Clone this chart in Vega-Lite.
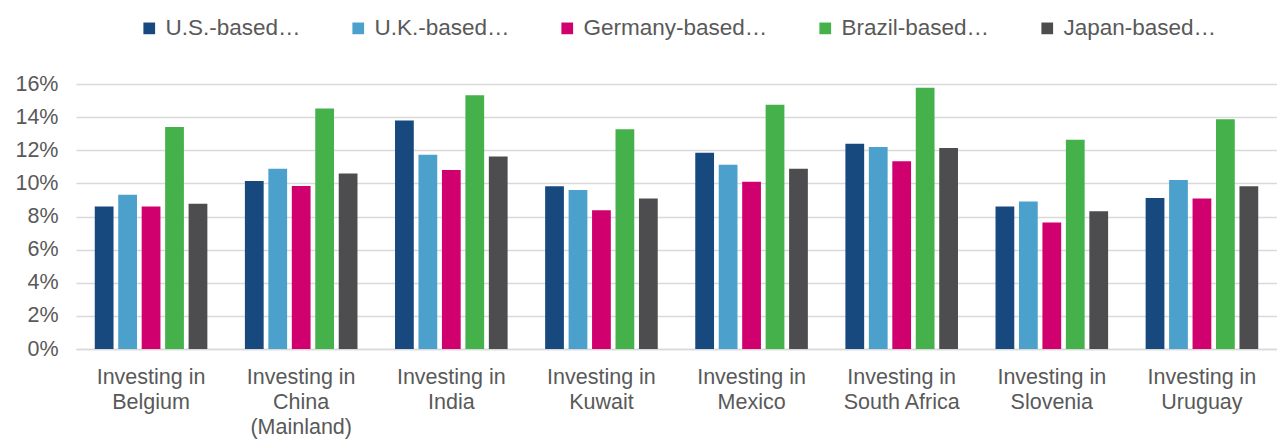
{
  "$schema": "https://vega.github.io/schema/vega-lite/v6.json",
  "autosize": {"type": "none"},
  "width": 1201,
  "height": 265,
  "padding": {"left": 76, "top": 84, "right": 0, "bottom": 91},
  "background": "white",
  "config": {
    "font": "Liberation Sans",
    "view": {"stroke": null},
    "axis": {"labelFont": "Liberation Sans", "labelColor": "#595959", "labelFontSize": 21.5}
  },
  "data": {
    "values": [
      {"market": "Investing in Belgium", "series": "U.S.-based…", "value": 0.0861},
      {"market": "Investing in Belgium", "series": "U.K.-based…", "value": 0.0931},
      {"market": "Investing in Belgium", "series": "Germany-based…", "value": 0.0861},
      {"market": "Investing in Belgium", "series": "Brazil-based…", "value": 0.1341},
      {"market": "Investing in Belgium", "series": "Japan-based…", "value": 0.0877},
      {"market": "Investing in China (Mainland)", "series": "U.S.-based…", "value": 0.1014},
      {"market": "Investing in China (Mainland)", "series": "U.K.-based…", "value": 0.1089},
      {"market": "Investing in China (Mainland)", "series": "Germany-based…", "value": 0.0984},
      {"market": "Investing in China (Mainland)", "series": "Brazil-based…", "value": 0.1452},
      {"market": "Investing in China (Mainland)", "series": "Japan-based…", "value": 0.106},
      {"market": "Investing in India", "series": "U.S.-based…", "value": 0.1379},
      {"market": "Investing in India", "series": "U.K.-based…", "value": 0.1173},
      {"market": "Investing in India", "series": "Germany-based…", "value": 0.1081},
      {"market": "Investing in India", "series": "Brazil-based…", "value": 0.1532},
      {"market": "Investing in India", "series": "Japan-based…", "value": 0.1163},
      {"market": "Investing in Kuwait", "series": "U.S.-based…", "value": 0.0982},
      {"market": "Investing in Kuwait", "series": "U.K.-based…", "value": 0.096},
      {"market": "Investing in Kuwait", "series": "Germany-based…", "value": 0.0837},
      {"market": "Investing in Kuwait", "series": "Brazil-based…", "value": 0.1327},
      {"market": "Investing in Kuwait", "series": "Japan-based…", "value": 0.0909},
      {"market": "Investing in Mexico", "series": "U.S.-based…", "value": 0.1185},
      {"market": "Investing in Mexico", "series": "U.K.-based…", "value": 0.1113},
      {"market": "Investing in Mexico", "series": "Germany-based…", "value": 0.101},
      {"market": "Investing in Mexico", "series": "Brazil-based…", "value": 0.1474},
      {"market": "Investing in Mexico", "series": "Japan-based…", "value": 0.1089},
      {"market": "Investing in South Africa", "series": "U.S.-based…", "value": 0.124},
      {"market": "Investing in South Africa", "series": "U.K.-based…", "value": 0.122},
      {"market": "Investing in South Africa", "series": "Germany-based…", "value": 0.1133},
      {"market": "Investing in South Africa", "series": "Brazil-based…", "value": 0.1577},
      {"market": "Investing in South Africa", "series": "Japan-based…", "value": 0.1214},
      {"market": "Investing in Slovenia", "series": "U.S.-based…", "value": 0.0861},
      {"market": "Investing in Slovenia", "series": "U.K.-based…", "value": 0.0891},
      {"market": "Investing in Slovenia", "series": "Germany-based…", "value": 0.0764},
      {"market": "Investing in Slovenia", "series": "Brazil-based…", "value": 0.1264},
      {"market": "Investing in Slovenia", "series": "Japan-based…", "value": 0.0831},
      {"market": "Investing in Uruguay", "series": "U.S.-based…", "value": 0.0911},
      {"market": "Investing in Uruguay", "series": "U.K.-based…", "value": 0.102},
      {"market": "Investing in Uruguay", "series": "Germany-based…", "value": 0.0909},
      {"market": "Investing in Uruguay", "series": "Brazil-based…", "value": 0.1387},
      {"market": "Investing in Uruguay", "series": "Japan-based…", "value": 0.0982}
    ]
  },
  "mark": {"type": "bar"},
  "encoding": {
    "x": {
      "field": "market",
      "type": "nominal",
      "sort": null,
      "scale": {"paddingInner": 0.25, "paddingOuter": 0.125},
      "axis": {
        "title": null,
        "labelAngle": 0,
        "ticks": false,
        "domain": true,
        "domainColor": "#D9D9D9",
        "domainWidth": 1.3,
        "labelPadding": 17,
        "labelLineHeight": 25,
        "labelBaseline": "top",
        "labelExpr": "datum.value == 'Investing in China (Mainland)' ? ['Investing in', 'China', '(Mainland)'] : ['Investing in', replace(datum.value, 'Investing in ', '')]"
      }
    },
    "xOffset": {
      "field": "series",
      "type": "nominal",
      "sort": ["U.S.-based…", "U.K.-based…", "Germany-based…", "Brazil-based…", "Japan-based…"],
      "scale": {"paddingInner": 0.2}
    },
    "y": {
      "field": "value",
      "type": "quantitative",
      "scale": {"domain": [0, 0.16]},
      "axis": {
        "title": null,
        "format": ".0%",
        "values": [0, 0.02, 0.04, 0.06, 0.08, 0.1, 0.12, 0.14, 0.16],
        "domain": false,
        "ticks": false,
        "labelPadding": 18,
        "gridColor": "#D9D9D9",
        "gridWidth": 1.3
      }
    },
    "color": {
      "field": "series",
      "type": "nominal",
      "sort": ["U.S.-based…", "U.K.-based…", "Germany-based…", "Brazil-based…", "Japan-based…"],
      "scale": {
        "domain": ["U.S.-based…", "U.K.-based…", "Germany-based…", "Brazil-based…", "Japan-based…"],
        "range": ["#17497E", "#4BA0CC", "#D0006F", "#44B14A", "#4D4D4F"]
      },
      "legend": {
        "title": null,
        "orient": "none",
        "direction": "horizontal",
        "legendX": 62,
        "legendY": -67,
        "symbolType": "square",
        "symbolSize": 137,
        "symbolStrokeWidth": 0,
        "symbolOpacity": 1,
        "labelFont": "Liberation Sans",
        "labelFontSize": 22.5,
        "labelColor": "#595959",
        "labelLimit": 400,
        "labelOffset": 5,
        "columnPadding": 46
      }
    }
  }
}
